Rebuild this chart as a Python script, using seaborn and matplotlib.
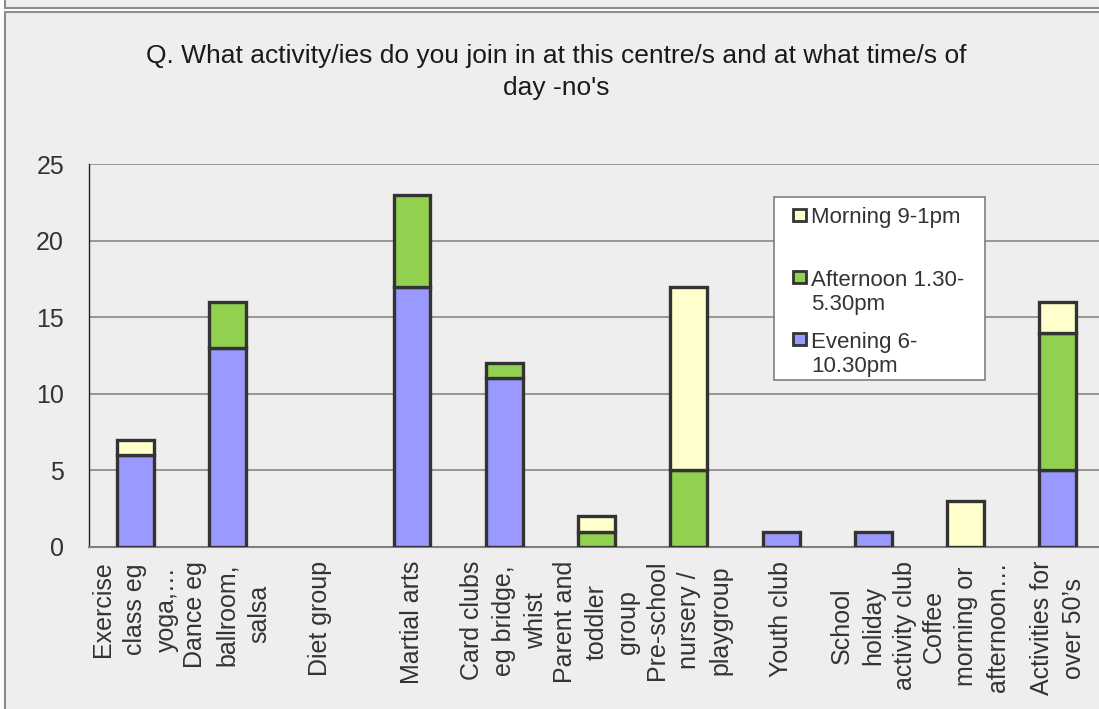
import numpy as np
import pandas as pd
import seaborn as sns
import matplotlib
matplotlib.use("Agg")
import matplotlib.pyplot as plt
from matplotlib.patches import Rectangle

# Survey responses: activity counts by time of day
categories = [
    "Exercise\nclass eg\nyoga,…",
    "Dance eg\nballroom,\nsalsa",
    "Diet group",
    "Martial arts",
    "Card clubs\neg bridge,\nwhist",
    "Parent and\ntoddler\ngroup",
    "Pre-school\nnursery /\nplaygroup",
    "Youth club",
    "School\nholiday\nactivity club",
    "Coffee\nmorning or\nafternoon…",
    "Activities for\nover 50’s",
]
evening = [6, 13, 0, 17, 11, 0, 0, 1, 1, 0, 5]
afternoon = [0, 3, 0, 6, 1, 1, 5, 0, 0, 0, 9]
morning = [1, 0, 0, 0, 0, 1, 12, 0, 0, 3, 2]

series_labels = ["Evening 6-\n10.30pm", "Afternoon 1.30-\n5.30pm", "Morning 9-1pm"]
series_colors = ["#9999FF", "#92D050", "#FFFFCC"]
y_ticks = [0, 5, 10, 15, 20, 25]
title = "Q. What activity/ies do you join in at this centre/s and at what time/s of\nday -no's"

sns.set_theme(style="white")
plt.rcParams["font.family"] = ["Liberation Sans", "DejaVu Sans"]

bg = "#EEEEEE"
edge = "#333333"
text_col = "#333333"

W, H = 1099, 709
fig = plt.figure(figsize=(W / 100, H / 100), dpi=100)
fig.patch.set_facecolor("white")


def fx(px):
    return px / W


def fy(py):
    return 1 - py / H


# frame boxes around the chart
def fbox(x0, y0, x1, y1, fc, ec="#8C8C8C", lw=1.5, z=0):
    r = Rectangle((fx(x0), fy(y1)), (x1 - x0) / W, (y1 - y0) / H,
                  transform=fig.transFigure, facecolor=fc,
                  edgecolor=ec, linewidth=lw, zorder=z)
    fig.add_artist(r)
    return r


fbox(5, -20, 1120, 8, bg)
fbox(5, 12, 1120, 740, bg)

ax = fig.add_axes([fx(89), fy(547), (1104 - 89) / W, (547 - 164) / H])
ax.set_facecolor(bg)

df = pd.DataFrame({"category": categories, "evening": evening,
                   "afternoon": afternoon, "morning": morning})
bottoms = np.zeros(len(categories))
for col, colr in zip(["evening", "afternoon", "morning"], series_colors):
    sns.barplot(data=df, x="category", y=col, color=colr, width=0.4,
                edgecolor=edge, linewidth=2.4, bottom=bottoms, ax=ax,
                saturation=1, zorder=3)
    bottoms = bottoms + df[col].to_numpy()

# empty segments leave no outline
for p in ax.patches:
    if p.get_height() == 0:
        p.set_visible(False)

ax.set_ylim(0, 25)
ax.set_xlim(-0.5, len(categories) - 0.5)
ax.set_yticks(y_ticks)
ax.yaxis.grid(True, color="#7F7F7F", linewidth=1.1, zorder=0)
ax.set_axisbelow(True)
for s in ["top", "right"]:
    ax.spines[s].set_visible(False)
ax.spines["left"].set_color("#222222")
ax.spines["bottom"].set_color("#7F7F7F")
ax.spines["left"].set_linewidth(1.0)
ax.spines["bottom"].set_linewidth(1.5)

ax.set_xticks(np.arange(-0.5, len(categories) + 0.5, 1), minor=True)
ax.tick_params(axis="x", which="major", length=0, pad=10)
ax.tick_params(axis="x", which="minor", length=6, color="#7F7F7F", width=1.2)
ax.tick_params(axis="y", length=6, color="#7F7F7F", width=1.2, pad=12,
               labelsize=18, labelcolor=text_col)
ax.set_xticks(range(len(categories)))
ax.set_xticklabels(categories, rotation=90, va="top", ha="center",
                   multialignment="center", fontsize=18, color=text_col,
                   linespacing=1.42)
ax.set_xlabel("")
ax.set_ylabel("")

# legend box: entries listed Morning, Afternoon, Evening
fbox(774, 197, 985, 380, "white", ec="#7F7F7F", lw=1.2, z=5)
entry_y = [215, 277, 339]
line_pitch = 25
for (lab, colr), yc in zip(list(zip(series_labels, series_colors))[::-1], entry_y):
    fbox(793, yc - 6, 806, yc + 6, colr, ec=edge, lw=2.0, z=6)
    n_extra = lab.count("\n")
    fig.text(fx(811), fy(yc + 8 + n_extra * line_pitch), lab, ha="left",
             va="baseline", fontsize=16, color=text_col, linespacing=1.2,
             zorder=7)

fig.text(fx(556), fy(72), title, ha="center", va="center",
         fontsize=19, color="#1A1A1A", linespacing=1.45)

fig.savefig("out.png", dpi=100, facecolor=fig.get_facecolor())
